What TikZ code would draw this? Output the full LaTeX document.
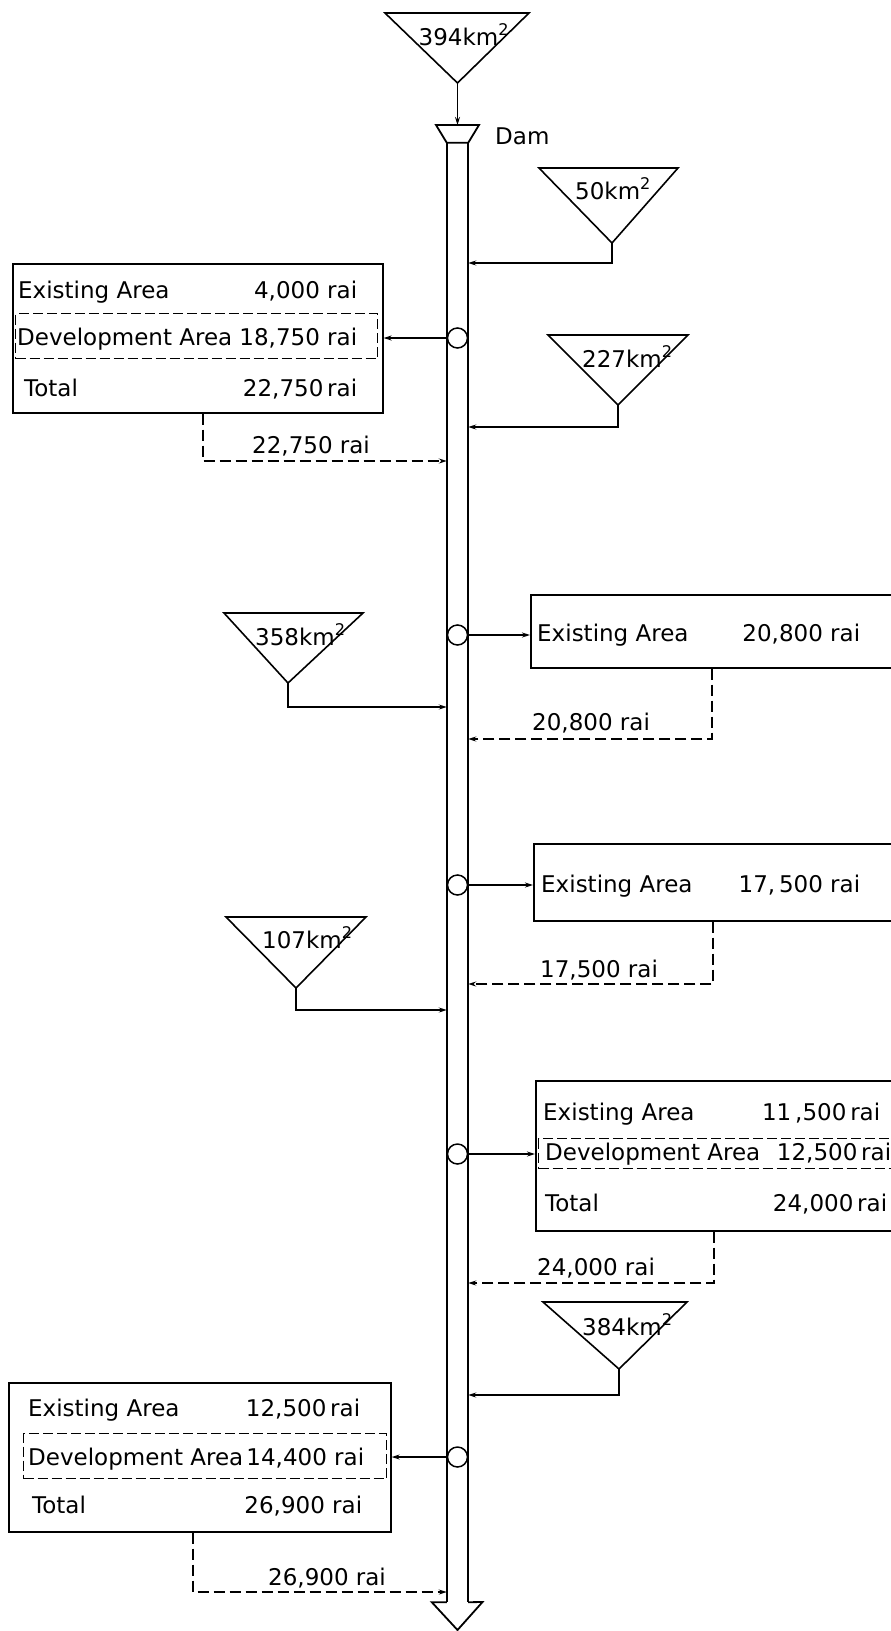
\documentclass[tikz,border=0pt]{standalone}
\usepackage{fontspec}
\setmainfont{DejaVu Sans}
\usetikzlibrary{arrows.meta}
\tikzset{
  chan/.style={line width=1.8pt,line join=miter},
  basin/.style={line width=1.6pt,line join=miter},
  areabox/.style={rectangle,draw,line width=1.6pt,inner sep=0pt,
    anchor=north west},
  devbox/.style={rectangle,draw,line width=1.3pt,inner sep=0pt,
    anchor=north west,dash pattern=on 10pt off 4pt},
  outlet/.style={circle,draw,line width=1.5pt,minimum size=20pt,
    inner sep=0pt},
  rowtxt/.style={inner sep=0pt,anchor=base west,
    font=\fontsize{23pt}{28pt}\selectfont},
  lbl/.style={inner sep=0pt,anchor=base west,
    font=\fontsize{23pt}{28pt}\selectfont},
  feed/.style={-{Stealth[length=8pt,width=5pt]},line width=1.3pt},
  inflow/.style={-{Stealth[length=8pt,width=5pt]},line width=1.4pt},
  ret/.style={-{Stealth[length=8pt,width=5pt]},line width=1.4pt,
    dash pattern=on 11pt off 5pt},
}
\begin{document}
\begin{tikzpicture}[x=1pt,y=-1pt]
  \path[use as bounding box] (0,0) rectangle (891,1631);
  \clip (0,0) rectangle (891,1631);

  % river with dam
  \node[minimum width=21pt,minimum height=1459pt,inner sep=0pt] (river)
    at (457.5,872.5) {};
  \coordinate (damtop) at (457.5,125);
  \draw[chan] (436,125) -- (479,125) -- (river.north east)
    -- (river.north west) -- cycle;
  \draw[chan] (river.north west) -- (river.south west);
  \draw[chan] (river.north east) -- (river.south east);
  \draw[chan] (river.south west) -- ++(-15,0) -- (457.5,1630)
    -- (482.5,1602) -- (river.south east);
  \node[lbl] (damlbl) at (495,144) {Dam};

  % catchments
  \draw[basin] (385,13) -- (529,13) -- (457.5,83) coordinate (c394a) -- cycle;
  \node[lbl] (c394) at (418.5,45) {394km\textsuperscript{2}};
  \draw[basin] (539,168) -- (678,168) -- (612,243) coordinate (c50a) -- cycle;
  \node[lbl] (c50) at (575,199) {50km\textsuperscript{2}};
  \draw[basin] (548,335) -- (688,335) -- (618,405) coordinate (c227a) -- cycle;
  \node[lbl] (c227) at (582,367) {227km\textsuperscript{2}};
  \draw[basin] (224,613) -- (363,613) -- (288,683) coordinate (c358a) -- cycle;
  \node[lbl] (c358) at (255,645) {358km\textsuperscript{2}};
  \draw[basin] (226,917) -- (366,917) -- (296,988) coordinate (c107a) -- cycle;
  \node[lbl] (c107) at (262,948) {107km\textsuperscript{2}};
  \draw[basin] (543,1302) -- (687,1302) -- (619,1369) coordinate (c384a) -- cycle;
  \node[lbl] (c384) at (582,1335) {384km\textsuperscript{2}};

  \draw[inflow] (c394a) -- (damtop);
  \draw[inflow] (c50a) |- (river.east |- 0,263);
  \draw[inflow] (c227a) |- (river.east |- 0,427);
  \draw[inflow] (c358a) |- (river.west |- 0,707);
  \draw[inflow] (c107a) |- (river.west |- 0,1010);
  \draw[inflow] (c384a) |- (river.east |- 0,1395);

  % irrigation areas
  \node[areabox,minimum width=370pt,minimum height=149pt] (box1) at (12,263) {};
  \node[devbox,minimum width=362pt,minimum height=45pt] (box1d) at (15,313) {};
  \node[rowtxt] (b1ex) at (18,298) {\makebox[339pt]{Existing Area\hfill 4,000 rai}};
  \node[rowtxt] (b1dv) at (17,345) {\makebox[340pt]{Development Area\hfill 18,750 rai}};
  \node[rowtxt] (b1tt) at (24,396) {\makebox[333pt]{Total\hfill 22,750\,rai}};

  \node[areabox,minimum width=380pt,minimum height=73pt] (box2) at (530,594) {};
  \node[rowtxt] (b2ex) at (537,641) {\makebox[323pt]{Existing Area\hfill 20,800 rai}};

  \node[areabox,minimum width=380pt,minimum height=77pt] (box3) at (533,843) {};
  \node[rowtxt] (b3ex) at (541,892) {\makebox[319pt]{Existing Area\hfill 17,\,500 rai}};

  \node[areabox,minimum width=380pt,minimum height=150pt] (box4) at (535,1080) {};
  \node[devbox,minimum width=370pt,minimum height=30pt] (box4d) at (538,1138) {};
  \node[rowtxt] (b4ex) at (543,1120) {\makebox[337pt]{Existing Area\hfill 11\,,500\,rai}};
  \node[rowtxt] (b4dv) at (545,1160) {\makebox[346pt]{Development Area\hfill 12,500\,rai}};
  \node[rowtxt] (b4tt) at (545,1211) {\makebox[342pt]{Total\hfill 24,000\,rai}};

  \node[areabox,minimum width=382pt,minimum height=149pt] (box5) at (8,1382) {};
  \node[devbox,minimum width=363pt,minimum height=45pt] (box5d) at (23,1433) {};
  \node[rowtxt] (b5ex) at (28,1416) {\makebox[332pt]{Existing Area\hfill 12,500\,rai}};
  \node[rowtxt] (b5dv) at (28,1465) {\makebox[336pt]{Development Area\hfill 14,400 rai}};
  \node[rowtxt] (b5tt) at (32,1513) {\makebox[330pt]{Total\hfill 26,900 rai}};

  % outlets
  \node[outlet] (o1) at (457.5,338) {};
  \node[outlet] (o2) at (457.5,635) {};
  \node[outlet] (o3) at (457.5,885) {};
  \node[outlet] (o4) at (457.5,1154) {};
  \node[outlet] (o5) at (457.5,1457) {};

  \draw[feed] (o1.west) -- (box1.east |- o1);
  \draw[feed] (o2.east) -- (box2.west |- o2);
  \draw[feed] (o3.east) -- (box3.west |- o3);
  \draw[feed] (o4.east) -- (box4.west |- o4);
  \draw[feed] (o5.west) -- (box5.east |- o5);

  % return flows
  \draw[ret] (box1.south -| 203,0) |- (river.west |- 0,461);
  \node[lbl] (r1) at (252,453) {22,750 rai};
  \draw[ret] (box2.south -| 712,0) |- (river.east |- 0,739);
  \node[lbl] (r2) at (532,730) {20,800 rai};
  \draw[ret] (box3.south -| 713,0) |- (river.east |- 0,984);
  \node[lbl] (r3) at (540,977) {17,500 rai};
  \draw[ret] (box4.south -| 714,0) |- (river.east |- 0,1283);
  \node[lbl] (r4) at (537,1275) {24,000 rai};
  \draw[ret] (box5.south -| 193,0) |- (river.west |- 0,1592);
  \node[lbl] (r5) at (268,1585) {26,900 rai};
\end{tikzpicture}
\end{document}
